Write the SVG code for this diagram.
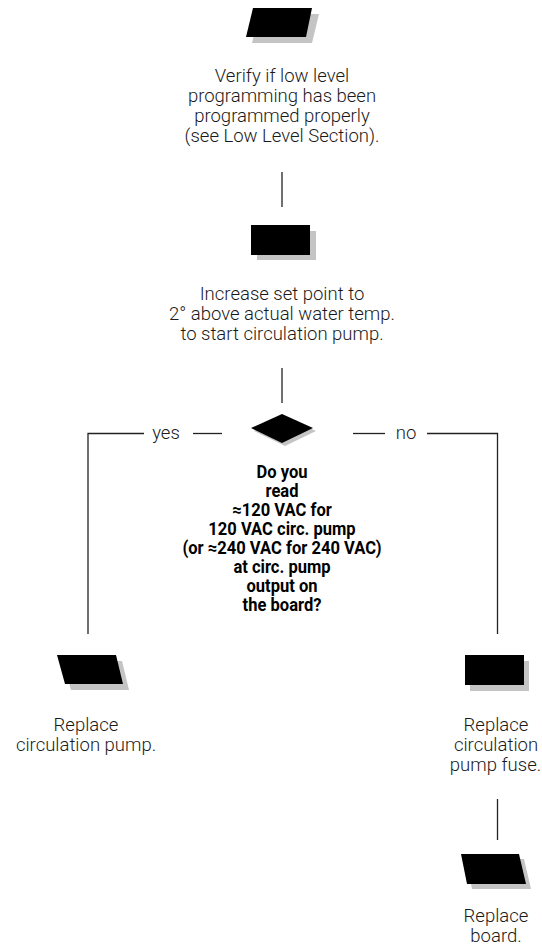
<svg xmlns="http://www.w3.org/2000/svg" width="542" height="946" viewBox="0 0 542 946">
<style>
.shadow{fill:#c4c4c4}
.shape{fill:#000}
.t{font-family:Roboto,"Liberation Sans",sans-serif;font-weight:300;font-size:18.5px;fill:#1a1a1a;text-anchor:middle}
.b{font-family:Roboto,"Liberation Sans",sans-serif;font-weight:700;font-size:18px;fill:#000;text-anchor:middle}
.ln{stroke:#222;stroke-width:1.3;fill:none}
</style>
<rect width="542" height="946" fill="#fff"/>
<g id="connectors">
<line class="ln" x1="282" y1="172" x2="282" y2="207"/>
<line class="ln" x1="282" y1="368" x2="282" y2="403"/>
<polyline class="ln" points="88,634 88,433.5 144,433.5"/>
<line class="ln" x1="193" y1="433.5" x2="222" y2="433.5"/>
<line class="ln" x1="353" y1="433.5" x2="385" y2="433.5"/>
<polyline class="ln" points="427,433.5 497.5,433.5 497.5,634"/>
<line class="ln" x1="497.5" y1="799" x2="497.5" y2="840"/>
<text class="t" x="166" y="439">yes</text>
<text class="t" x="406" y="439">no</text>
</g>
<g id="start">
<polygon class="shadow" points="259,14 319,14 312,43 252,43"/>
<polygon class="shape" points="253,8 312,8 306,37 246,37"/>
<text class="t" x="282" y="82">Verify if low level</text>
<text class="t" x="282" y="102">programming has been</text>
<text class="t" x="282" y="122">programmed properly</text>
<text class="t" x="282" y="142">(see Low Level Section).</text>
</g>
<g id="step1">
<rect class="shadow" x="257" y="231" width="59" height="29"/>
<rect class="shape" x="251" y="225" width="59" height="30"/>
<text class="t" x="282" y="300">Increase set point to</text>
<text class="t" x="282" y="320">2° above actual water temp.</text>
<text class="t" x="282" y="340">to start circulation pump.</text>
</g>
<g id="decision">
<polygon class="shadow" points="285,417 316,431 285,446 254,431"/>
<polygon class="shape" points="282,414 313,428 282,443 251,428"/>
<g transform="translate(282,0) scale(0.92,1)">
<text class="b" x="0" y="478">Do you</text>
<text class="b" x="0" y="497">read</text>
<text class="b" x="0" y="516">≈120 VAC for</text>
<text class="b" x="0" y="535">120 VAC circ. pump</text>
<text class="b" x="0" y="554">(or ≈240 VAC for 240 VAC)</text>
<text class="b" x="0" y="573">at circ. pump</text>
<text class="b" x="0" y="592">output on</text>
<text class="b" x="0" y="611">the board?</text>
</g>
</g>
<g id="yes-action">
<polygon class="shadow" points="63,661 122,661 129,690 71,690"/>
<polygon class="shape" points="57,655 116,655 123,684 65,684"/>
<text class="t" x="86" y="731">Replace</text>
<text class="t" x="86" y="751">circulation pump.</text>
</g>
<g id="no-action">
<rect class="shadow" x="470" y="661" width="59" height="30"/>
<rect class="shape" x="465" y="655" width="59" height="30"/>
<text class="t" x="496" y="731">Replace</text>
<text class="t" x="496" y="751">circulation</text>
<text class="t" x="495.5" y="771">pump fuse.</text>
</g>
<g id="board">
<polygon class="shadow" points="466,859 524,859 531,889 472,889"/>
<polygon class="shape" points="461,854 519,854 526,884 467,884"/>
<text class="t" x="496" y="922">Replace</text>
<text class="t" x="496" y="942">board.</text>
</g>
</svg>
